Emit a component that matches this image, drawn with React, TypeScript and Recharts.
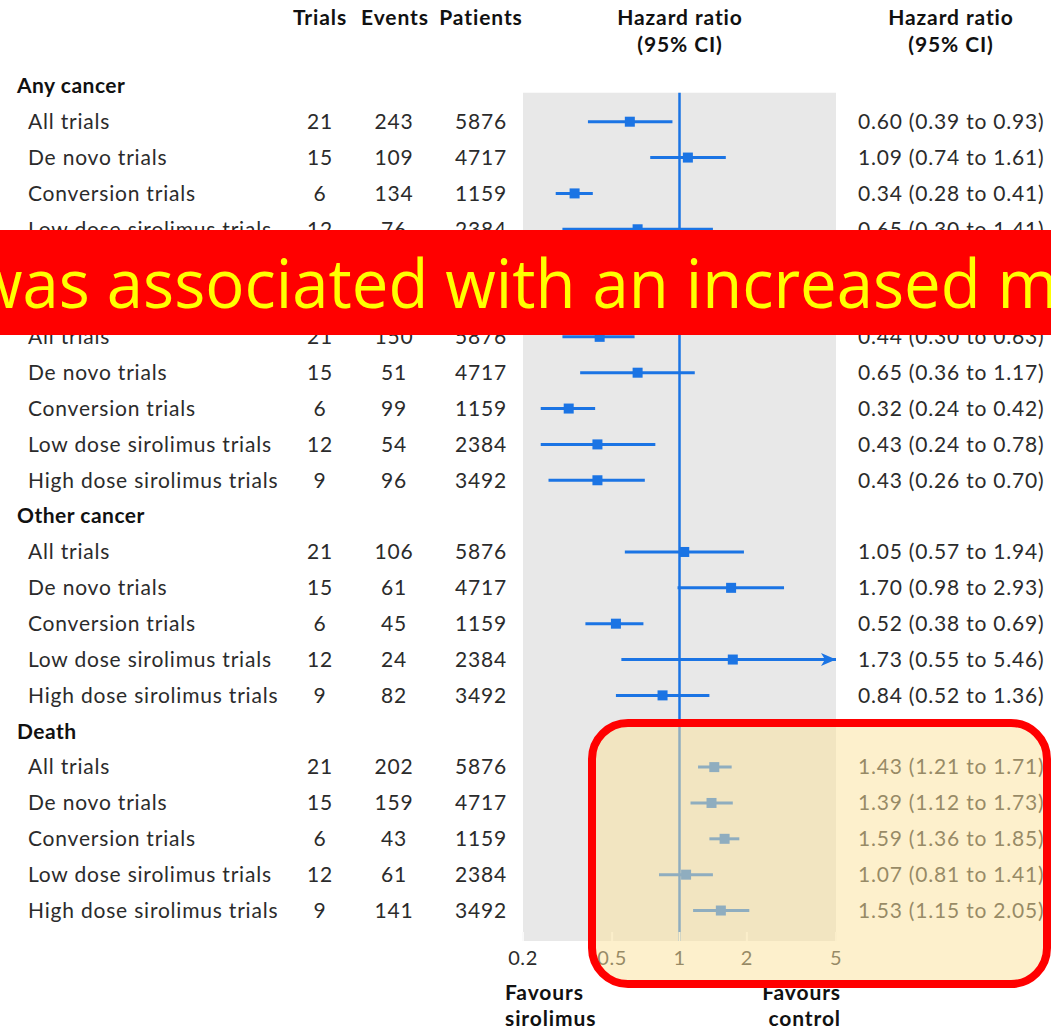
import React from "react";
import {
  ComposedChart,
  Scatter,
  ErrorBar,
  XAxis,
  YAxis,
  ReferenceArea,
  ReferenceLine,
} from "recharts";

const groups = ["Any cancer", "Non-melanoma skin cancer", "Other cancer", "Death"];
const subgroups = [
  "All trials",
  "De novo trials",
  "Conversion trials",
  "Low dose sirolimus trials",
  "High dose sirolimus trials",
];
const trials = [21, 15, 6, 12, 9];
const patients = [5876, 4717, 1159, 2384, 3492];
const events = [
  [243, 109, 134, 76, 167],
  [150, 51, 99, 54, 96],
  [106, 61, 45, 24, 82],
  [202, 159, 43, 61, 141],
];
const hr = [
  [0.6, 1.09, 0.34, 0.65, 0.57],
  [0.44, 0.65, 0.32, 0.43, 0.43],
  [1.05, 1.7, 0.52, 1.73, 0.84],
  [1.43, 1.39, 1.59, 1.07, 1.53],
];
const ciLow = [
  [0.39, 0.74, 0.28, 0.3, 0.37],
  [0.3, 0.36, 0.24, 0.24, 0.26],
  [0.57, 0.98, 0.38, 0.55, 0.52],
  [1.21, 1.12, 1.36, 0.81, 1.15],
];
const ciHigh = [
  [0.93, 1.61, 0.41, 1.41, 0.88],
  [0.63, 1.17, 0.42, 0.78, 0.7],
  [1.94, 2.93, 0.69, 5.46, 1.36],
  [1.71, 1.73, 1.85, 1.41, 2.05],
];
const xTicks = [0.2, 0.5, 1, 2, 5];
const X_MIN = 0.2;
const X_MAX = 5;

const BLUE = "#1b74e4";
const TEXT = "#2b2b2b";
const FONT = "Lato, sans-serif";

// flat list of rows: a header then five subgroup rows per group
const rows: any[] = [];
groups.forEach((g, gi) => {
  rows.push({ header: true, label: g });
  subgroups.forEach((s, si) => {
    rows.push({
      header: false,
      label: s,
      trials: trials[si],
      events: events[gi][si],
      patients: patients[si],
      hr: hr[gi][si],
      lo: ciLow[gi][si],
      hi: ciHigh[gi][si],
    });
  });
});

const points = rows
  .map((r, i) => ({ r, i }))
  .filter(({ r }) => !r.header)
  .map(({ r, i }) => ({
    x: r.hr,
    y: i,
    err: [r.hr - r.lo, Math.min(r.hi, X_MAX) - r.hr],
  }));

const arrows = rows
  .map((r, i) => ({ r, i }))
  .filter(({ r }) => !r.header && r.hi > X_MAX)
  .map(({ i }) => ({ x: X_MAX, y: i }));

const fmt = (v: number) => v.toFixed(2);

const RowTick = (props: any) => {
  const { y, payload } = props;
  const r = rows[payload.value];
  if (!r) return null;
  if (r.header) {
    return (
      <text x={17} y={y} dy="0.35em" fontSize={21} fontWeight="bold" fill="#111" fontFamily={FONT} letterSpacing={0.5}>
        {r.label}
      </text>
    );
  }
  const common = { y, dy: "0.35em", fontSize: 21, fill: TEXT, fontFamily: FONT, letterSpacing: 0.8 };
  return (
    <g>
      <text x={28} {...common}>{r.label}</text>
      <text x={320} textAnchor="middle" {...common}>{r.trials}</text>
      <text x={394} textAnchor="middle" {...common}>{r.events}</text>
      <text x={481} textAnchor="middle" {...common}>{r.patients}</text>
      <text x={858} {...common}>
        {`${fmt(r.hr)} (${fmt(r.lo)} to ${fmt(r.hi)})`}
      </text>
    </g>
  );
};

const XTick = (props: any) => {
  const { x, y, payload } = props;
  return (
    <g>
      <line x1={x} x2={x} y1={y - 9} y2={y} stroke="#fafafa" strokeWidth={2} />
      <text x={x} y={y + 24} textAnchor="middle" fontSize={20} fill={TEXT} fontFamily={FONT} letterSpacing={0.6}>
        {payload.value}
      </text>
    </g>
  );
};

const Square = (props: any) => {
  const { cx, cy } = props;
  return <rect x={cx - 5} y={cy - 5} width={10} height={10} fill={BLUE} />;
};

const Arrow = (props: any) => {
  const { cx, cy } = props;
  return (
    <path
      d={`M${cx},${cy} L${cx - 15},${cy - 6.5} L${cx - 11},${cy} L${cx - 15},${cy + 6.5} Z`}
      fill={BLUE}
    />
  );
};

const App = () => {
  const rowIdx = rows.map((_, i) => i);
  const bold = { fontWeight: "bold" as const, fontSize: 21, fill: "#111", fontFamily: FONT, letterSpacing: 0.9 };
  return (
    <div style={{ position: "absolute", left: 0, top: 0, width: 1051, height: 1030, background: "#fff" }}>
      <ComposedChart
        width={1051}
        height={1030}
        margin={{ top: 50, right: 215, bottom: 0, left: 0 }}
      >
        <XAxis
          dataKey="x"
          type="number"
          scale="log"
          domain={[X_MIN, X_MAX]}
          ticks={xTicks}
          allowDataOverflow
          axisLine={false}
          tickLine={false}
          tickSize={0}
          tickMargin={0}
          height={89}
          tick={<XTick />}
          interval={0}
        />
        <YAxis
          dataKey="y"
          type="number"
          domain={[-1, 23.85]}
          reversed
          allowDataOverflow
          ticks={rowIdx}
          interval={0}
          width={523}
          axisLine={false}
          tickLine={false}
          tickSize={0}
          tick={<RowTick />}
        />
        <ReferenceArea x1={X_MIN} x2={X_MAX} y1={0.195} y2={23.85} fill="#e8e8e8" fillOpacity={1} stroke="none" />
        <ReferenceLine
          segment={[{ x: 1, y: 0.195 }, { x: 1, y: 23.85 }]}
          stroke={BLUE}
          strokeWidth={2.5}
        />
        <Scatter data={points} shape={<Square />} isAnimationActive={false}>
          <ErrorBar dataKey="err" direction="x" width={0} stroke={BLUE} strokeWidth={3} isAnimationActive={false} />
        </Scatter>
        <Scatter data={arrows} shape={<Arrow />} isAnimationActive={false} />
      </ComposedChart>

      <svg width={1051} height={1030} style={{ position: "absolute", left: 0, top: 0, pointerEvents: "none" }}>
        <text x={320} y={25} textAnchor="middle" {...bold}>Trials</text>
        <text x={395} y={25} textAnchor="middle" {...bold}>Events</text>
        <text x={481} y={25} textAnchor="middle" {...bold}>Patients</text>
        <text x={680} y={25} textAnchor="middle" {...bold}>Hazard ratio</text>
        <text x={680} y={52} textAnchor="middle" {...bold}>(95% CI)</text>
        <text x={951} y={25} textAnchor="middle" {...bold}>Hazard ratio</text>
        <text x={951} y={52} textAnchor="middle" {...bold}>(95% CI)</text>
        <text x={505} y={1000} {...bold}>Favours</text>
        <text x={505} y={1026} {...bold}>sirolimus</text>
        <text x={841} y={1000} textAnchor="end" {...bold}>Favours</text>
        <text x={841} y={1026} textAnchor="end" {...bold}>control</text>

        {/* highlight box over the death rows */}
        <rect
          x={592}
          y={723}
          width={455}
          height={261}
          rx={36}
          fill="rgba(251,226,157,0.52)"
          stroke="#ff0000"
          strokeWidth={8}
        />

        {/* caption banner */}
        <rect x={0} y={230} width={1051} height={105} fill="#ff0000" />
        <text
          x={-28}
          y={308}
          fontSize={67}
          fill="#ffff00"
          fontFamily="'Open Sans', sans-serif"
          textLength={1086}
          lengthAdjust="spacingAndGlyphs"
        >
          was associated with an increased m
        </text>
      </svg>
    </div>
  );
};

export default App;
